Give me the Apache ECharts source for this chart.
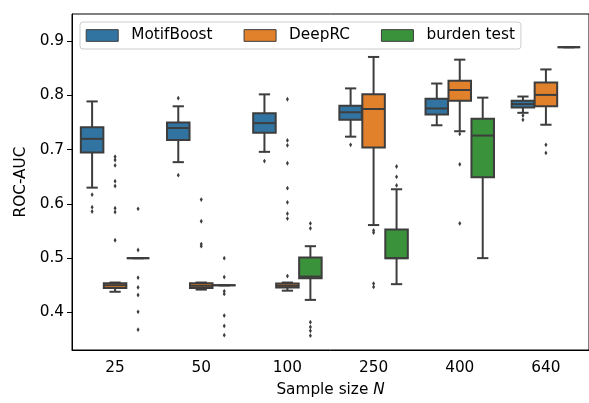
<!DOCTYPE html>
<html>
<head>
<meta charset="utf-8">
<script src="https://cdn.jsdelivr.net/npm/echarts@6/dist/echarts.min.js"></script>
<style>
html, body { margin: 0; padding: 0; background: #fff; }
#echart { width: 589px; height: 403px; }
</style>
</head>
<body>
<div id="echart"></div>
<script>
// categories and tick labels
var sampleSizes = ['25', '50', '100', '250', '400', '640'];
var yTicks = [0.4, 0.5, 0.6, 0.7, 0.8, 0.9];

// box stats per sample size: [min, q1, median, q3, max]
var motifBoostBoxes = [
	[0.630, 0.695, 0.720, 0.7415, 0.789],
	[0.677, 0.718, 0.740, 0.750, 0.780],
	[0.696, 0.731, 0.749, 0.767, 0.802],
	[0.724, 0.755, 0.769, 0.781, 0.813],
	[0.745, 0.765, 0.776, 0.794, 0.822],
	[0.768, 0.778, 0.784, 0.790, 0.798]
];
var deepRCBoxes = [
	[0.438, 0.445, 0.450, 0.4535, 0.455],
	[0.442, 0.445, 0.449, 0.4535, 0.455],
	[0.440, 0.446, 0.449, 0.453, 0.455],
	[0.561, 0.704, 0.775, 0.802, 0.871],
	[0.734, 0.790, 0.810, 0.827, 0.866],
	[0.746, 0.780, 0.801, 0.824, 0.848]
];
var burdenBoxes = [
	[0.500, 0.500, 0.500, 0.500, 0.500],
	[0.450, 0.450, 0.450, 0.450, 0.450],
	[0.423, 0.463, 0.466, 0.501, 0.522],
	[0.452, 0.500, 0.500, 0.553, 0.627],
	[0.500, 0.649, 0.726, 0.757, 0.796],
	[0.889, 0.889, 0.889, 0.889, 0.889]
];

// outliers: [category index, value]
var motifBoostOutliers = [
	[0, 0.617], [0, 0.594], [0, 0.586],
	[1, 0.795], [1, 0.653],
	[2, 0.679],
	[3, 0.709],
	[5, 0.763], [5, 0.755]
];
var deepRCOutliers = [
	[0, 0.687], [0, 0.681], [0, 0.671], [0, 0.642], [0, 0.633], [0, 0.592], [0, 0.585], [0, 0.533],
	[1, 0.608], [1, 0.568], [1, 0.526], [1, 0.522],
	[2, 0.793], [2, 0.717], [2, 0.708], [2, 0.675], [2, 0.629], [2, 0.603], [2, 0.582], [2, 0.573], [2, 0.467],
	[3, 0.551], [3, 0.547], [3, 0.453], [3, 0.447],
	[4, 0.729], [4, 0.673], [4, 0.564],
	[5, 0.709], [5, 0.694]
];
var burdenOutliers = [
	[0, 0.591], [0, 0.515], [0, 0.464], [0, 0.446], [0, 0.432], [0, 0.401], [0, 0.368],
	[1, 0.500], [1, 0.465], [1, 0.439], [1, 0.434], [1, 0.394], [1, 0.375], [1, 0.358],
	[2, 0.564], [2, 0.555], [2, 0.382], [2, 0.373], [2, 0.366], [2, 0.357],
	[3, 0.669], [3, 0.650], [3, 0.634]
];

var names = ['MotifBoost', 'DeepRC', 'burden test'];
var colors = ['#3274a1', '#e1812c', '#3a923a'];
var gray = '#3d3d3d';
var fontSize = 15.3;

function boxRender(k, color) {
	return function (params, api) {
		var band = api.size([1, 0])[0];
		var slot = band * 0.8 / 3;
		var bw = slot * 0.98;
		var c = api.value(0);
		var p = [];
		for (var i = 1; i <= 5; i++) p.push(api.coord([c, api.value(i)]));
		var x = p[0][0] + (k - 1) * slot;
		var ls = { stroke: gray, lineWidth: 2 };
		return {
			type: 'group',
			children: [
				{ type: 'line', shape: { x1: x, y1: p[0][1], x2: x, y2: p[1][1] }, style: ls },
				{ type: 'line', shape: { x1: x, y1: p[3][1], x2: x, y2: p[4][1] }, style: ls },
				{ type: 'line', shape: { x1: x - bw / 4, y1: p[0][1], x2: x + bw / 4, y2: p[0][1] }, style: ls },
				{ type: 'line', shape: { x1: x - bw / 4, y1: p[4][1], x2: x + bw / 4, y2: p[4][1] }, style: ls },
				{ type: 'rect', shape: { x: x - bw / 2, y: p[3][1], width: bw, height: p[1][1] - p[3][1] },
					style: { fill: color, stroke: gray, lineWidth: 2 } },
				{ type: 'line', shape: { x1: x - bw / 2, y1: p[2][1], x2: x + bw / 2, y2: p[2][1] }, style: ls }
			]
		};
	};
}

function outlierRender(k) {
	return function (params, api) {
		var band = api.size([1, 0])[0];
		var slot = band * 0.8 / 3;
		var pt = api.coord([api.value(0), api.value(1)]);
		var x = pt[0] + (k - 1) * slot, y = pt[1];
		return {
			type: 'polygon',
			shape: { points: [[x, y - 2.4], [x + 1.5, y], [x, y + 2.4], [x - 1.5, y]] },
			style: { fill: gray }
		};
	};
}

function boxData(arr) {
	return arr.map(function (b, i) { return [i].concat(b); });
}

var boxSets = [motifBoostBoxes, deepRCBoxes, burdenBoxes];
var outlierSets = [motifBoostOutliers, deepRCOutliers, burdenOutliers];
var series = [];
for (var s = 0; s < 3; s++) {
	series.push({
		name: names[s],
		type: 'custom',
		renderItem: boxRender(s, colors[s]),
		itemStyle: { color: colors[s] },
		encode: { x: 0, y: [1, 2, 3, 4, 5] },
		data: boxData(boxSets[s]),
		z: 2 + s
	});
	series.push({
		name: names[s],
		type: 'custom',
		renderItem: outlierRender(s),
		itemStyle: { color: colors[s] },
		encode: { x: 0, y: 1 },
		data: outlierSets[s],
		z: 2 + s
	});
}

var myChart = echarts.init(document.getElementById('echart'));
var option = {
	animation: false,
	textStyle: { fontFamily: 'DejaVu Sans' },
	grid: {
		left: 72,
		top: 14,
		width: 528,
		height: 342,
		show: true,
		borderColor: '#000',
		borderWidth: 1
	},
	legend: {
		left: 80,
		top: 22,
		padding: [6, 6, 6, 5.7],
		itemGap: 31,
		itemWidth: 32,
		itemHeight: 11.7,
		backgroundColor: 'rgba(255,255,255,0.8)',
		borderColor: '#cccccc',
		borderWidth: 1,
		borderRadius: 3,
		textStyle: { fontSize: fontSize, color: '#000', padding: [0, 0, 0, 8] },
		data: names.map(function (n, i) {
			return { name: n, icon: 'rect', itemStyle: { color: colors[i], borderColor: gray, borderWidth: 1 } };
		})
	},
	xAxis: {
		type: 'category',
		data: sampleSizes,
		name: 'Sample size {i|N}',
		nameLocation: 'middle',
		nameGap: 33,
		nameTextStyle: { fontSize: fontSize, color: '#000', rich: { i: { fontSize: fontSize, fontStyle: 'italic', color: '#000' } } },
		axisLine: { lineStyle: { color: '#000', width: 1 } },
		axisTick: { alignWithLabel: true, length: 5, lineStyle: { color: '#000' } },
		axisLabel: { fontSize: fontSize, color: '#000', margin: 11 },
		splitLine: { show: false }
	},
	yAxis: {
		type: 'value',
		min: 0.3306,
		max: 0.9502,
		name: 'ROC-AUC',
		nameLocation: 'middle',
		nameGap: 42,
		nameTextStyle: { fontSize: fontSize, color: '#000' },
		axisLine: { show: true, lineStyle: { color: '#000', width: 1 } },
		axisTick: { show: true, length: 5, customValues: yTicks, lineStyle: { color: '#000' } },
		axisLabel: {
			fontSize: fontSize, color: '#000', margin: 8, customValues: yTicks,
			formatter: function (v) { return v.toFixed(1); }
		},
		splitLine: { show: false }
	},
	series: series
};
myChart.setOption(option);
</script>
</body>
</html>
